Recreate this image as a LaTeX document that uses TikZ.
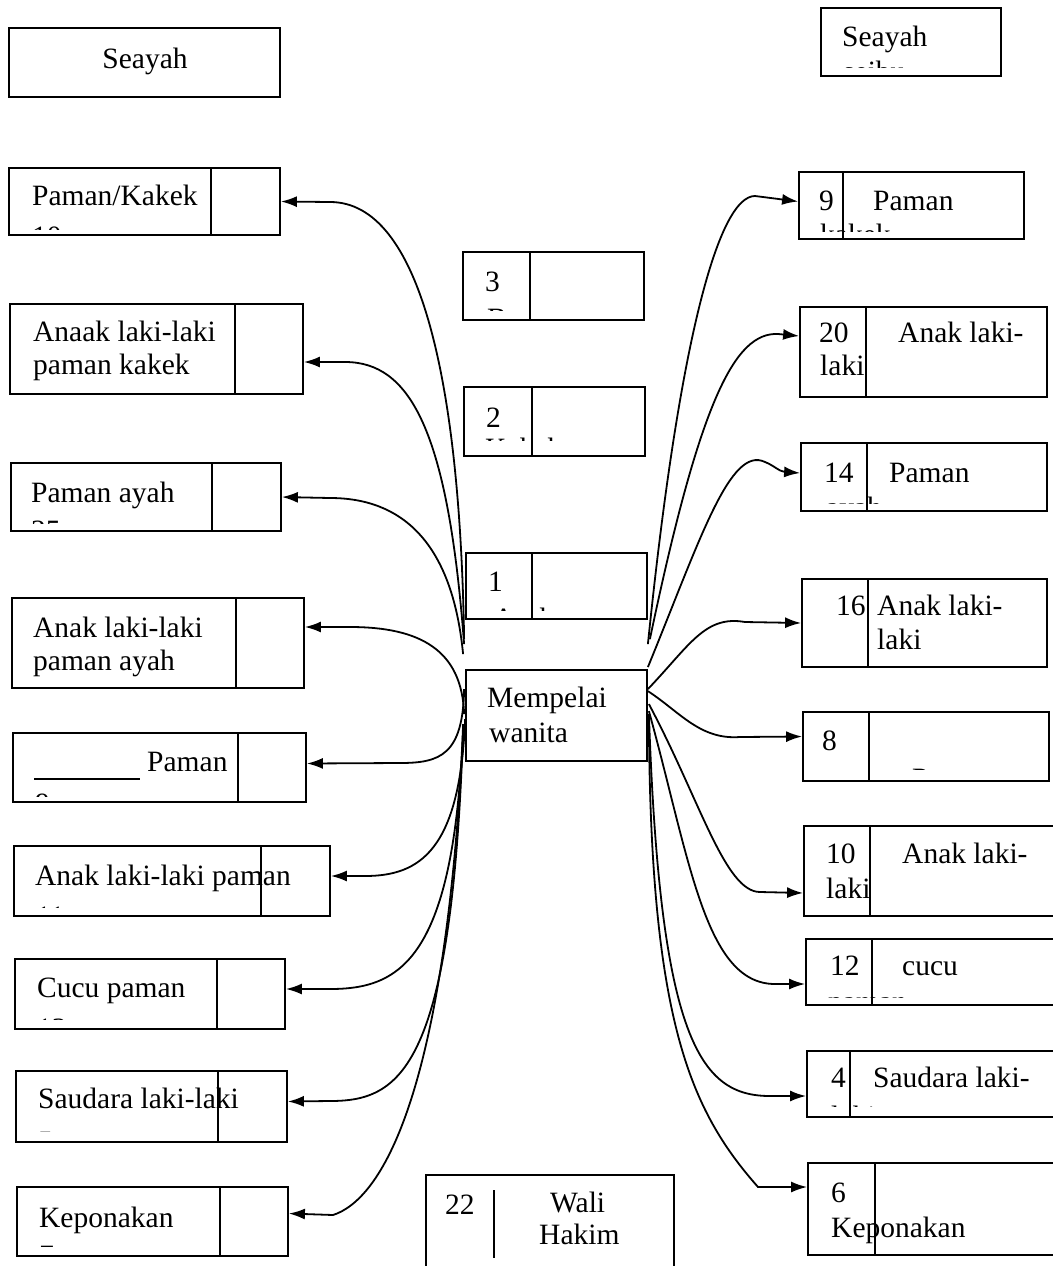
\documentclass[tikz,border=0pt]{standalone}
\usepackage{fontspec}
\setmainfont{Liberation Serif}
\usetikzlibrary{arrows.meta,fit}
\tikzset{
  bx/.style={draw, line width=1.8pt, inner sep=0pt, rectangle},
  dv/.style={line width=1.8pt},
  txt/.style={anchor=base west, inner sep=0pt, font=\fontsize{29.5}{34}\selectfont},
  conn/.style={line width=1.8pt, -{Latex[length=16pt,width=11pt]}},
}
\newcommand\bxx[5]{\node[bx, fit={(#2,-#3) (#4,-#5)}] (#1) {};}
\newcommand\dvv[2]{\draw[dv] ([xshift=#2pt]#1.north west) -- ([xshift=#2pt]#1.south west);}
\newcommand\tx[4]{\node[txt] (#1) at (#2,-#3) {#4};}
\newcommand\frg[5]{\begin{scope}\clip (0,-#3+42) rectangle (1052,-#4);\node[txt] (#1) at (#2,-#3-4) {#5};\end{scope}}
\begin{document}
\begin{tikzpicture}[x=1pt,y=1pt]
\useasboundingbox (0,0) rectangle (1052,-1266);
% ---------- left column ----------
\bxx{S0}{9}{28}{280}{97}
\node[txt, anchor=base] (tS0) at (145,-68) {Seayah};
\bxx{L1}{9}{168}{280}{235}\dvv{L1}{203}
\tx{tL1}{32}{205}{Paman/Kakek}
\frg{fL1}{32}{242}{229}{10}
\bxx{L2}{10}{304}{303}{394}\dvv{L2}{226}
\tx{tL2a}{33}{341}{Anaak laki-laki}
\tx{tL2b}{33}{374}{paman kakek}
\bxx{L3}{11}{463}{281}{531}\dvv{L3}{202}
\tx{tL3}{31}{502}{Paman ayah}
\frg{fL3}{31}{536}{523}{25}
\bxx{L4}{12}{598}{304}{688}\dvv{L4}{225}
\tx{tL4a}{33}{637}{Anak laki-laki}
\tx{tL4b}{33}{670}{paman ayah}
\bxx{L5}{13}{733}{306}{802}\dvv{L5}{226}
\draw[line width=1.4pt] (34,-779) -- (140,-779);
\tx{tL5}{147}{771}{Paman}
\frg{fL5}{35}{809}{796}{9}
\bxx{L6}{14}{846}{330}{916}\dvv{L6}{248}
\tx{tL6}{35}{885}{Anak laki-laki paman}
\frg{fL6}{36}{922}{907}{11}
\bxx{L7}{15}{959}{285}{1029}\dvv{L7}{203}
\tx{tL7}{37}{997}{Cucu paman}
\frg{fL7}{37}{1034}{1019}{13}
\bxx{L8}{16}{1071}{287}{1142}\dvv{L8}{203}
\tx{tL8}{38}{1108}{Saudara laki-laki}
\frg{fL8}{38}{1147}{1131}{5}
\bxx{L9}{17}{1187}{288}{1256}\dvv{L9}{204}
\tx{tL9}{39}{1227}{Keponakan}
\frg{fL9}{39}{1261}{1246}{7}
% ---------- middle column ----------
\bxx{B3}{463}{252}{644}{320}\dvv{B3}{68}
\tx{tB3}{485}{291}{3}
\frg{fB3}{487}{324}{310}{Buyut}
\bxx{B2}{464}{387}{645}{456}\dvv{B2}{69}
\tx{tB2}{486}{427}{2}
\frg{fB2}{485}{454}{440}{Kakek}
\bxx{B1}{466}{553}{647}{619}\dvv{B1}{67}
\tx{tB1}{488}{591}{1}
\frg{fB1}{493}{624}{610}{Ayah}
\bxx{M}{466}{670}{647}{761}
\tx{tMa}{487}{707}{Mempelai}
\tx{tMb}{489}{742}{wanita}
% Wali Hakim (open at the bottom)
\coordinate (W1) at (426,-1270);
\coordinate (W2) at (426,-1175);
\coordinate (W3) at (674,-1175);
\coordinate (W4) at (674,-1270);
\draw[dv] (W1) -- (W2) -- (W3) -- (W4);
\coordinate (Wd1) at (494,-1190);
\coordinate (Wd2) at (494,-1258);
\draw[dv] (Wd1) -- (Wd2);
\tx{tW}{445}{1214}{22}
\tx{tWa}{550}{1212}{Wali}
\tx{tWb}{539}{1244}{Hakim}
% ---------- right column ----------
\bxx{R0}{821}{8}{1001}{76}
\tx{tR0}{842}{46}{Seayah}
\frg{fR0}{843}{77}{67}{seibu}
\bxx{R1}{799}{172}{1024}{239}\dvv{R1}{45}
\tx{tR1a}{819}{210}{9}
\tx{tR1b}{873}{210}{Paman}
\frg{fR1}{820}{240}{231}{kakek}
\bxx{R2}{800}{307}{1047}{397}\dvv{R2}{67}
\tx{tR2a}{819}{342}{20}
\tx{tR2b}{820}{375}{laki}
\tx{tR2c}{898}{342}{Anak laki-}
\bxx{R3}{801}{443}{1047}{511}\dvv{R3}{67}
\tx{tR3a}{824}{482}{14}
\tx{tR3b}{889}{482}{Paman}
\frg{fR3}{826}{513}{503}{ayah}
\bxx{R4}{802}{579}{1047}{667}\dvv{R4}{67}
\tx{tR4a}{836}{615}{16}
\tx{tR4b}{877}{615}{Anak laki-}
\tx{tR4c}{877}{649}{laki}
\bxx{R5}{803}{712}{1049}{781}\dvv{R5}{67}
\tx{tR5}{822}{750}{8}
\frg{fR5}{912}{784}{769}{Paman}
\bxx{R6}{804}{826}{1065}{916}\dvv{R6}{67}
\tx{tR6a}{826}{863}{10}
\tx{tR6b}{826}{898}{laki}
\tx{tR6c}{902}{863}{Anak laki-}
\bxx{R7}{806}{939}{1065}{1005}\dvv{R7}{67}
\tx{tR7a}{830}{975}{12}
\tx{tR7b}{902}{975}{cucu}
\frg{fR7}{828}{1007}{997}{paman}
\bxx{R8}{807}{1051}{1065}{1117}\dvv{R8}{44}
\tx{tR8a}{831}{1087}{4}
\tx{tR8b}{873}{1087}{Saudara laki-}
\frg{fR8}{831}{1122}{1106}{laki}
\bxx{R9}{808}{1163}{1065}{1255}\dvv{R9}{68}
\tx{tR9a}{831}{1202}{6}
\tx{tR9b}{831}{1237}{Keponakan}
% ---------- connectors to the left ----------
\draw[conn] ([shift={(-1pt,30pt)}]M.north west) .. controls (460,-380) and (420,-202) .. (330,-202) -- (L1.east);
\draw[conn] ([shift={(-1pt,25pt)}]M.north west) .. controls (448,-430) and (410,-362) .. (345,-362) -- ([yshift=-13pt]L2.east);
\draw[conn] ([shift={(-2pt,15pt)}]M.north west) .. controls (452,-540) and (400,-498) .. (330,-498) -- (L3.east);
\draw[conn] ([shift={(-1pt,-45pt)}]M.north west) .. controls (462,-650) and (420,-627) .. (350,-627) -- ([yshift=16pt]L4.east);
\draw[conn] ([shift={(-1pt,-20pt)}]M.north west) .. controls (463,-755) and (440,-763) .. (400,-763) -- ([yshift=4pt]L5.east);
\draw[conn] ([shift={(0pt,-50pt)}]M.north west) .. controls (460,-850) and (420,-876) .. (365,-876) -- ([yshift=5pt]L6.east);
\draw[conn] ([shift={(-2pt,-55pt)}]M.north west) .. controls (455,-960) and (400,-989) .. (330,-989) -- ([yshift=5pt]L7.east);
\draw[conn] ([shift={(-2pt,-60pt)}]M.north west) .. controls (452,-1070) and (400,-1101) .. (330,-1101) -- ([yshift=5pt]L8.east);
\draw[conn] ([shift={(-2pt,-65pt)}]M.north west) .. controls (445,-1100) and (380,-1200) .. (333,-1215) -- ([yshift=8pt]L9.east);
% ---------- connectors to the right ----------
\draw[conn] ([shift={(0pt,25pt)}]M.north east) .. controls (680,-330) and (720,-196) .. (755,-196) -- ([yshift=4pt]R1.west);
\draw[conn] ([shift={(2pt,30pt)}]M.north east) .. controls (700,-400) and (735,-332) .. (778,-334) -- ([yshift=16pt]R2.west);
\draw[conn] ([shift={(0pt,2pt)}]M.north east) .. controls (700,-540) and (730,-445) .. (765,-462) .. controls (775,-466) and (778,-471) .. (785,-472) -- ([yshift=4pt]R3.west);
\draw[conn] ([shift={(0pt,-20pt)}]M.north east) .. controls (690,-645) and (705,-615) .. (745,-622) -- (R4.west);
\draw[conn] ([shift={(0pt,-22pt)}]M.north east) .. controls (680,-712) and (700,-740) .. (740,-737) -- ([yshift=10pt]R5.west);
\draw[conn] ([shift={(1pt,-35pt)}]M.north east) .. controls (700,-800) and (725,-892) .. (760,-892) -- ([yshift=-22pt]R6.west);
\draw[conn] ([shift={(1pt,-42pt)}]M.north east) .. controls (690,-860) and (705,-984) .. (775,-984) -- ([yshift=-12pt]R7.west);
\draw[conn] ([shift={(1pt,-45pt)}]M.north east) .. controls (660,-1040) and (700,-1096) .. (770,-1096) -- ([yshift=-12pt]R8.west);
\draw[conn] ([shift={(1pt,-48pt)}]M.north east) .. controls (650,-1020) and (690,-1110) .. (758,-1187) -- ([yshift=22pt]R9.west);
\end{tikzpicture}
\end{document}
